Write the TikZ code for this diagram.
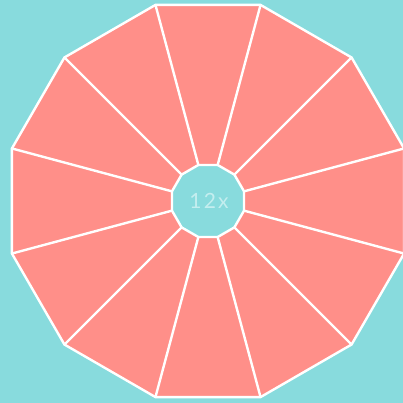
\documentclass[tikz,border=0pt]{standalone}
\usepackage{fontspec}
\setmainfont{Lato}
\newfontfamily\labelfont[LetterSpace=10]{Lato}
\usetikzlibrary{calc}
\definecolor{teal1}{HTML}{88DBDD}
\definecolor{salmon1}{HTML}{FF8F89}
\definecolor{textteal}{HTML}{C4EEEF}
\tikzset{seg/.style={draw=white,line width=2.4pt,line join=miter}}
\begin{document}
\begin{tikzpicture}[x=1pt,y=-1pt]
\fill[teal1] (0,0) rectangle (403,403);
\useasboundingbox (0,0) rectangle (403,403);
\coordinate (c) at (208,201);
\foreach \k in {0,...,11}{
  \coordinate (o\k) at ($(c)+({15+30*\k}:203 and -203)$);
  \coordinate (i\k) at ($(c)+({15+30*\k}:37.3 and -37.3)$);
}
\fill[salmon1] (o0)--(o1)--(o2)--(o3)--(o4)--(o5)--(o6)--(o7)--(o8)--(o9)--(o10)--(o11)--cycle;
\foreach \k in {0,...,11}{\draw[seg] (i\k)--(o\k);}
\draw[seg] (o0)--(o1)--(o2)--(o3)--(o4)--(o5)--(o6)--(o7)--(o8)--(o9)--(o10)--(o11)--cycle;
\draw[seg,fill=teal1] (i0)--(i1)--(i2)--(i3)--(i4)--(i5)--(i6)--(i7)--(i8)--(i9)--(i10)--(i11)--cycle;
\node[text=textteal,font=\labelfont\fontsize{21}{24}\selectfont,inner sep=0pt] (t) at ($(c)+(1,0)$) {12x};
\end{tikzpicture}
\end{document}
